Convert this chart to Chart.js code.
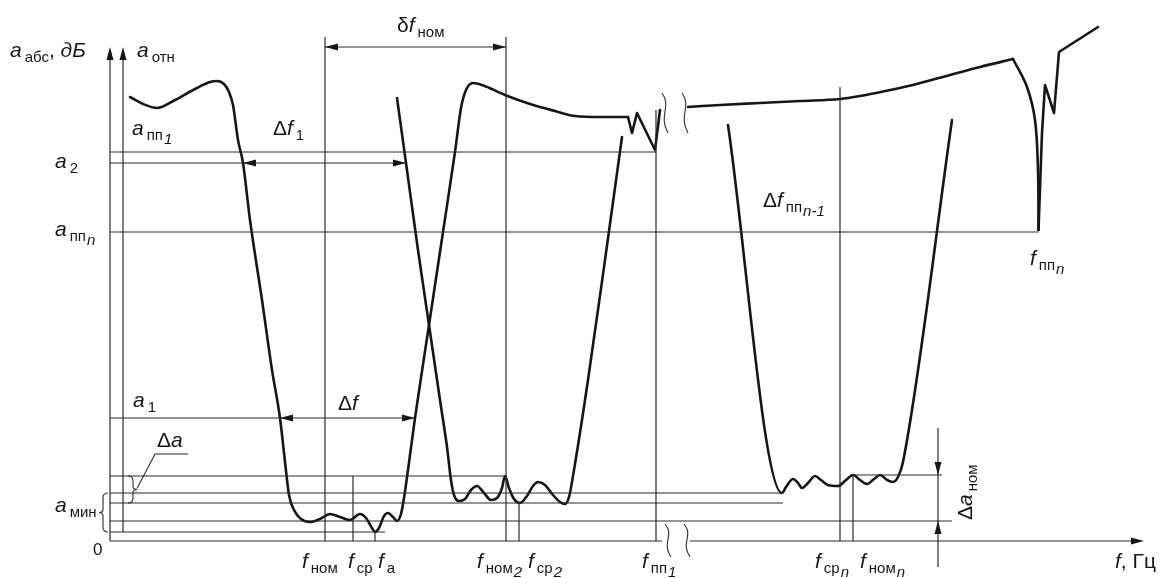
<!DOCTYPE html>
<html>
<head>
<meta charset="utf-8">
<script src="https://cdn.jsdelivr.net/npm/chart.js@4.4.0/dist/chart.umd.min.js"></script>
<style>
html, body { margin: 0; padding: 0; background: #fff; }
#wrap { position: relative; width: 1165px; height: 578px; }
</style>
</head>
<body>
<div id="wrap"><canvas id="chart"></canvas></div>
<script>
// frequency (x) and attenuation (y) in drawing units, 0 = axes corner

// first stopband, passband 1 and following stopband (smooth part)
const curvePass1 = [
    [20,444],[33,437],[47,433],[65,441],[85,452],[100,459],[107,460],[114,457],[119,449],[123,436],
    [128,401],[133,378],[140,321],[152,241],[162,171],[170,123],[175,79],[179,46],[184,31],[191,22],
    [200,19],[210,22],[220,27],[230,24],[240,21],[250,27],[256,23],[262,13],[265,9],[269,13],
    [274,25],[278,28],[283,24],[287,20],[291,27],[294,43],[298,71],[305,123],[319,216],[333,309],
    [345,389],[351,433],[356,451],[363,458],[372,456],[395,446],[420,437],[445,430],[465,425],[490,424],[518,424]
];
// zigzag at the edge of the first stopband
const zigPass1 = [[518,424],[522,408],[527,428],[545,391],[550,431]];

// passband 2
const curvePass2 = [
    [287,443],[296,378],[308,291],[319,216],[330,141],[337,94],[341,61],[344,46],[349,40],[355,42],
    [361,51],[367,55],[374,48],[381,41],[387,43],[392,53],[395,65],[399,53],[404,42],[410,38],
    [417,45],[423,55],[428,59],[435,56],[443,46],[450,39],[455,37],[459,44],[464,71],[478,161],
    [495,281],[512,404]
];

// upper stopband after the break
const curveTop = [
    [578,434],[610,436],[650,438],[690,440],[730,442],[750,445],[780,451],[803,456],[840,466],[870,474],[903,482]
];
const curveNotch = [[903,482],[917,454],[925,421],[928,371],[928.5,311]];
const zigNotch = [[928.5,311],[932,408],[935,456],[944,428],[949,489],[988,514]];

// passband n
const curvePassN = [
    [618,416],[672,48],[676,54],[683,62],[688,58],[692,53],[698,58],[705,65],[711,61],[718,56],
    [728,55],[736,61],[743,66],[750,61],[757,57],[764,62],[770,66],[777,61],[783,59],[788,64],
    [793,79],[842,421]
];

// reference levels: [y, xFrom, xTo]
const levelLines = [
    [389, 0, 546],   // a пп1
    [378, 0, 296],   // a2
    [309, 0, 928.5], // a ппn
    [123, 0, 305],   // a1
    [65, 0, 396],
    [66, 743, 832],
    [48, 0, 672],
    [38, 0, 673],
    [20, 0, 842],
    [9, 0, 275],
    [0, 0, 552],     // f axis before the break
    [0, 580, 1030]   // f axis after the break
];
// frequency marks: [x, yFrom, yTo]
const freqLines = [
    [0, 0, 490],    // a абс axis
    [13, 9, 490],   // a отн axis
    [215, 0, 504],  // f ном
    [396, 0, 504],  // f ном2
    [243, 0, 65],   // f ср
    [265, 0, 9],    // f а
    [409, 0, 39],   // f ср2
    [546, 0, 431],  // f пп1
    [730, 0, 454],  // f срn
    [743, 0, 66],   // f номn
    [828, -26, 113] // Δa ном
];

// arrow heads: [x, y, direction]
const arrowTips = [
    [0, 494, "u"], [13, 494, "u"], [1034, 0, "r"],
    [215, 494, "l"], [396, 494, "r"],
    [133, 378, "l"], [296, 378, "r"],
    [170, 123, "l"], [305, 123, "r"],
    [828, 66, "d"], [828, 20, "u"]
];
const dfNomArrow = [215, 396, 494];

// break marks: [x, yTop, yBottom]
const breakMarks = [[558, 17, -16], [577, 17, -16], [555, 448, 408], [575, 448, 408]];

const INK = "#161616";
const THIN = "#2a2a2a";
const FONT = "'Liberation Sans', Arial, sans-serif";

const M = (t) => ({ t: t, i: true, s: 21 });
const N = (t) => ({ t: t, i: false, s: 21 });
const S = (t) => ({ t: t, i: false, s: 15, dy: 5, pre: 3 });
const SI = (t) => ({ t: t, i: true, s: 15, dy: 9, pre: 1 });

// label: [x, y, parts]
const labels = [
    [-100, 484, [M("a"), S("абс"), N(", "), M("дБ")]],
    [27, 484, [M("a"), S("отн")]],
    [287, 509, [N("δ"), M("f"), S("ном")]],
    [22, 406, [M("a"), S("пп"), SI("1")]],
    [163, 406, [N("Δ"), M("f"), S("1")]],
    [-55, 373, [M("a"), S("2")]],
    [653, 334, [N("Δ"), M("f"), S("пп"), SI("n-1")]],
    [-55, 305, [M("a"), S("пп"), SI("n")]],
    [920, 276, [M("f"), S("пп"), SI("n")]],
    [23, 134, [M("a"), S("1")]],
    [228, 131, [N("Δ"), M("f")]],
    [47, 94, [N("Δ"), M("a")]],
    [-55, 29, [M("a"), S("мин")]],
    [-17, -14, [{ t: "0", i: false, s: 17 }]],
    [192, -27, [M("f"), S("ном")]],
    [238, -27, [M("f"), S("ср")]],
    [268, -27, [M("f"), S("а")]],
    [367, -27, [M("f"), S("ном"), SI("2")]],
    [418, -27, [M("f"), S("ср"), SI("2")]],
    [532, -27, [M("f"), S("пп"), SI("1")]],
    [705, -27, [M("f"), S("ср"), SI("n")]],
    [750, -27, [M("f"), S("ном"), SI("n")]],
    [1005, -27, [M("f"), N(", Гц")]]
];

function drawParts(ctx, x, y, parts) {
    let cx = x;
    for (const p of parts) {
        cx += p.pre || 0;
        ctx.font = (p.i ? "italic " : "") + p.s + "px " + FONT;
        ctx.fillText(p.t, cx, y + (p.dy || 0));
        cx += ctx.measureText(p.t).width;
    }
}

function arrowHead(ctx, x, y, dir) {
    const len = 13, half = 3.5;
    ctx.beginPath();
    ctx.moveTo(x, y);
    if (dir === "r") { ctx.lineTo(x - len, y - half); ctx.lineTo(x - len, y + half); }
    if (dir === "l") { ctx.lineTo(x + len, y - half); ctx.lineTo(x + len, y + half); }
    if (dir === "u") { ctx.lineTo(x - half, y + len); ctx.lineTo(x + half, y + len); }
    if (dir === "d") { ctx.lineTo(x - half, y - len); ctx.lineTo(x + half, y - len); }
    ctx.closePath();
    ctx.fill();
}

const sketchPlugin = {
    id: "sketch",
    afterDatasetsDraw(chart) {
        const ctx = chart.ctx;
        const xs = chart.scales.x, ys = chart.scales.y;
        const px = (v) => xs.getPixelForValue(v);
        const py = (v) => ys.getPixelForValue(v);
        ctx.save();
        ctx.fillStyle = INK;
        ctx.strokeStyle = THIN;
        ctx.lineWidth = 1.2;

        // δf ном dimension line
        ctx.beginPath();
        ctx.moveTo(px(dfNomArrow[0]), py(dfNomArrow[2]));
        ctx.lineTo(px(dfNomArrow[1]), py(dfNomArrow[2]));
        ctx.stroke();

        for (const a of arrowTips) arrowHead(ctx, px(a[0]), py(a[1]), a[2]);

        // break marks
        ctx.lineWidth = 1.1;
        for (const b of breakMarks) {
            const x = px(b[0]), t = py(b[1]), bt = py(b[2]), h = bt - t;
            ctx.beginPath();
            ctx.moveTo(x - 3, t);
            ctx.bezierCurveTo(x + 7, t + h * 0.35, x - 7, t + h * 0.55, x + 3, bt);
            ctx.stroke();
        }
        // white gap in the curve break
        // braces
        ctx.lineWidth = 1.1;
        // Δa brace
        let bx = px(18), by0 = py(65), by1 = py(38), bm = (by0 + by1) / 2;
        ctx.beginPath();
        ctx.moveTo(bx, by0);
        ctx.quadraticCurveTo(bx + 5, by0, bx + 5, by0 + 5);
        ctx.lineTo(bx + 5, bm - 3);
        ctx.quadraticCurveTo(bx + 5, bm, bx + 9, bm);
        ctx.quadraticCurveTo(bx + 5, bm, bx + 5, bm + 3);
        ctx.lineTo(bx + 5, by1 - 5);
        ctx.quadraticCurveTo(bx + 5, by1, bx, by1);
        ctx.stroke();
        ctx.beginPath();
        ctx.moveTo(bx + 9, bm - 1);
        ctx.lineTo(px(45), py(87));
        ctx.lineTo(px(78), py(87));
        ctx.stroke();
        // a мин brace
        bx = px(-4); by0 = py(48); by1 = py(9); bm = (by0 + by1) / 2;
        ctx.beginPath();
        ctx.moveTo(bx + 2, by0);
        ctx.quadraticCurveTo(bx - 3, by0, bx - 3, by0 + 5);
        ctx.lineTo(bx - 3, bm - 3);
        ctx.quadraticCurveTo(bx - 3, bm, bx - 7, bm);
        ctx.quadraticCurveTo(bx - 3, bm, bx - 3, bm + 3);
        ctx.lineTo(bx - 3, by1 - 5);
        ctx.quadraticCurveTo(bx - 3, by1, bx + 2, by1);
        ctx.stroke();

        // labels
        ctx.fillStyle = INK;
        ctx.textBaseline = "alphabetic";
        for (const l of labels) drawParts(ctx, px(l[0]), py(l[1]), l[2]);

        // rotated Δa ном
        ctx.save();
        ctx.translate(px(862), py(21));
        ctx.rotate(-Math.PI / 2);
        drawParts(ctx, 0, 0, [N("Δ"), M("a"), S("ном")]);
        ctx.restore();

        ctx.restore();
    }
};

const thin = (pts) => ({
    data: pts, showLine: true, borderColor: THIN, borderWidth: 1.2,
    pointRadius: 0, tension: 0, fill: false
});
const thick = (pts, smooth) => ({
    data: pts, showLine: true, borderColor: INK, borderWidth: 2.6,
    pointRadius: 0, fill: false, borderJoinStyle: "round", borderCapStyle: "round",
    tension: 0, cubicInterpolationMode: smooth ? "monotone" : "default"
});

const datasets = [];
for (const l of levelLines) datasets.push(thin([[l[1], l[0]], [l[2], l[0]]]));
for (const f of freqLines) datasets.push(thin([[f[0], f[1]], [f[0], f[2]]]));
datasets.push(thick(curvePass1, true));
datasets.push(thick(zigPass1, false));
datasets.push(thick(curvePass2, true));
datasets.push(thick(curveTop, true));
datasets.push(Object.assign(thick(curveNotch, false), { tension: 0.35 }));
datasets.push(thick(zigNotch, false));
datasets.push(thick(curvePassN, true));

new Chart(document.getElementById("chart"), {
    type: "scatter",
    data: { datasets: datasets },
    options: {
        responsive: true,
        maintainAspectRatio: false,
        animation: false,
        layout: { padding: 0 },
        plugins: { legend: { display: false }, tooltip: { enabled: false }, title: { display: false } },
        scales: {
            x: { type: "linear", min: -110, max: 1055, display: false },
            y: { type: "linear", min: -37, max: 541, display: false }
        }
    },
    plugins: [sketchPlugin]
});
</script>
</body>
</html>
